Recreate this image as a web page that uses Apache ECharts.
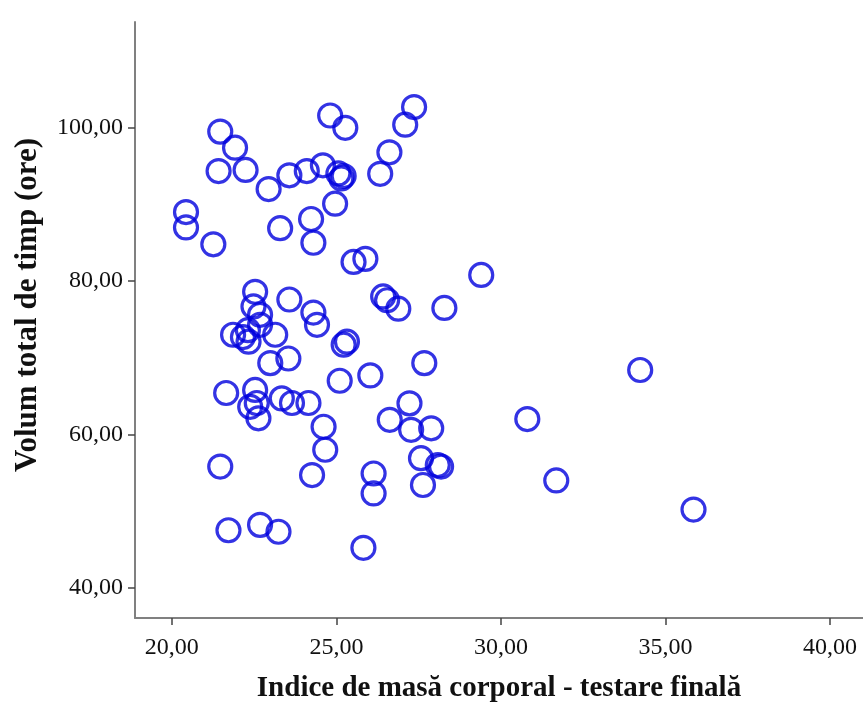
<!DOCTYPE html>
<html>
<head>
<meta charset="utf-8">
<script src="https://cdn.jsdelivr.net/npm/echarts@6/dist/echarts.min.js"></script>
<style>html,body{margin:0;padding:0;background:#fff}#c{width:863px;height:702px}</style>
</head>
<body>
<div id="c"></div>
<script>
const xTitle = 'Indice de masă corporal - testare finală';
const yTitle = 'Volum total de timp (ore)';
const xTicks = [20, 25, 30, 35, 40];
const yTicks = [40, 60, 80, 100];
const bmi = [
  21.47, 21.92, 21.42, 22.24, 22.94, 23.57, 24.10, 24.59, 25.06, 25.22, 25.15,
  24.81, 25.27, 27.36, 27.09, 26.61, 26.33,
  20.43, 20.43, 21.26, 23.29, 24.23, 24.96, 24.30, 25.52, 25.88,
  29.40, 26.42, 26.54, 26.88, 28.28,
  22.53, 23.57, 22.48, 22.68, 22.68, 24.30, 24.41, 21.86, 22.16, 22.31, 22.33, 23.14, 22.99, 23.54, 25.32, 25.22,
  25.10, 26.03, 27.67, 34.23,
  21.65, 22.53, 22.38, 22.58, 22.63, 23.34, 23.65, 24.15, 24.61, 24.66, 24.26, 21.47, 21.72, 22.68, 23.24,
  27.22, 26.62, 27.27, 27.88, 27.57, 28.08, 28.18, 27.63, 26.13, 26.13,
  25.82, 30.80, 31.68, 35.85
];
const hours = [
  99.5, 97.4, 94.35, 94.5, 92.0, 93.8, 94.35, 95.1, 94.05, 93.7, 93.4,
  101.6, 100.0, 102.7, 100.4, 96.8, 94.0,
  89.0, 87.0, 84.8, 86.9, 88.1, 90.1, 85.0, 82.5, 82.9,
  80.8, 78.0, 77.5, 76.4, 76.5,
  78.6, 77.6, 76.7, 75.6, 74.3, 75.9, 74.3, 73.0, 72.7, 73.6, 72.1, 73.0, 69.3, 69.9, 72.1, 71.7,
  67.0, 67.7, 69.3, 68.4,
  65.4, 65.8, 63.6, 64.1, 62.1, 64.7, 64.1, 64.1, 61.0, 58.0, 54.7, 55.8, 47.5, 48.2, 47.3,
  64.05, 61.9, 60.6, 60.8, 56.9, 56.0, 55.8, 53.4, 54.9, 52.3,
  45.2, 62.0, 54.0, 50.2
];
const fmt = v => v.toFixed(2).replace('.', ',');
const chart = echarts.init(document.getElementById('c'));
const axisCommon = {
  axisLine: {show: true, lineStyle: {color: '#808080', width: 2}},
  axisTick: {show: true, length: 7, lineStyle: {color: '#444', width: 1.5}},
  splitLine: {show: false},
  nameLocation: 'middle'
};
chart.setOption({
  animation: false,
  backgroundColor: '#fff',
  grid: {left: 135, top: 22, right: 0, bottom: 84, containLabel: false, outerBoundsMode: 'none'},
  xAxis: Object.assign({}, axisCommon, {
    type: 'value', min: 18.88, max: 41.0, name: xTitle, nameGap: 56,
    nameTextStyle: {fontFamily: 'Liberation Serif', fontWeight: 'bold', fontSize: 29, color: '#111'},
    axisLabel: {
      fontFamily: 'Liberation Serif', fontSize: 24, color: '#111', margin: 18,
      customValues: xTicks, formatter: fmt
    },
    axisTick: Object.assign({}, axisCommon.axisTick, {customValues: xTicks})
  }),
  yAxis: Object.assign({}, axisCommon, {
    type: 'value', min: 36.05, max: 113.8, name: yTitle, nameGap: 92,
    nameTextStyle: {fontFamily: 'Liberation Serif', fontWeight: 'bold', fontSize: 31, color: '#111', padding: [0, 0, 0, 30]},
    axisLabel: {
      fontFamily: 'Liberation Serif', fontSize: 24, color: '#111', margin: 12,
      customValues: yTicks, formatter: fmt
    },
    axisTick: Object.assign({}, axisCommon.axisTick, {customValues: yTicks})
  }),
  series: [{
    type: 'scatter',
    data: bmi.map((x, i) => [x, hours[i]]),
    symbol: 'circle',
    symbolSize: 23,
    itemStyle: {color: 'rgba(0,0,0,0)', borderColor: '#0000dd', borderWidth: 3.2}
  }]
});
</script>
</body>
</html>
